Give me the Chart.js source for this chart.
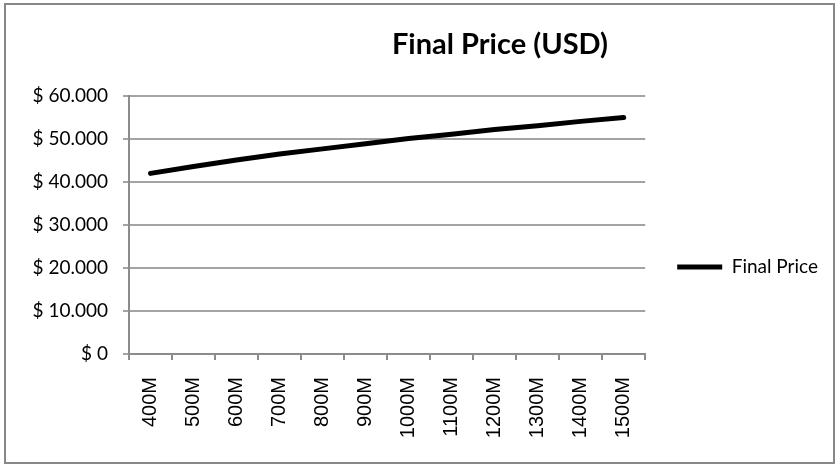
<!DOCTYPE html>
<html>
<head>
<meta charset="utf-8">
<script src="https://cdn.jsdelivr.net/npm/chart.js@4/dist/chart.umd.min.js"></script>
<style>
  html, body { margin: 0; padding: 0; background: #fff; }
  #wrap   { position: relative; width: 838px; height: 466px; overflow: hidden; }
  #chart  { position: absolute; left: 0; top: 0; }
  #frame  { position: absolute; left: 4px; top: 3px; width: 827px; height: 457px;
            border: 2px solid #878787; pointer-events: none; }
  #title  { position: absolute; left: 500px; top: 25px; transform: translateX(-50%);
            font: bold 29px Lato, sans-serif; color: #000; white-space: nowrap; }
</style>
</head>
<body>
<div id="wrap">
  <canvas id="chart" width="838" height="466"></canvas>
  <div id="frame"></div>
  <div id="title">Final Price (USD)</div>
</div>
<script>
// ── Data ──────────────────────────────────────────────────
const categories  = ["400M", "500M", "600M", "700M", "800M", "900M",
                     "1000M", "1100M", "1200M", "1300M", "1400M", "1500M"];
const finalPrice  = [42000, 43600, 45100, 46500, 47700, 48900,
                     50100, 51100, 52200, 53100, 54100, 55000];
const yTickLabels = ["$ 0", "$ 10.000", "$ 20.000", "$ 30.000",
                     "$ 40.000", "$ 50.000", "$ 60.000"];

// ── Colours ───────────────────────────────────────────────
const AXIS = "#8c8c8c";
const GRID = "#a3a3a3";
const INK  = "#000";

new Chart(document.getElementById("chart"), {
  type: "line",
  data: {
    labels: categories,
    datasets: [{
      label: "Final Price",
      data: finalPrice,
      borderColor: INK,
      backgroundColor: INK,
      borderWidth: 5,
      borderCapStyle: "round",
      borderJoinStyle: "round",
      pointRadius: 0,
      tension: 0,
      fill: false,
    }],
  },
  options: {
    responsive: false,
    animation: false,
    layout: { padding: { top: 96, bottom: 28, left: 29, right: 10 } },
    scales: {
      x: {
        offset: true,
        grid: { offset: true, drawOnChartArea: false, tickLength: 6, color: AXIS, lineWidth: 2 },
        border: { color: AXIS, width: 2 },
        ticks: {
          autoSkip: false, minRotation: 90, maxRotation: 90, padding: 17,
          color: INK, font: { family: "'Liberation Sans', Arial, sans-serif", size: 20 },
        },
        afterFit: s => { s.height = 84; },
      },
      y: {
        min: 0, max: 60000,
        ticks: {
          stepSize: 10000, padding: 15, color: INK,
          font: { family: "Lato, sans-serif", size: 19 },
          callback: (v, i) => yTickLabels[i],
        },
        grid: { color: GRID, lineWidth: 2, tickLength: 6 },
        border: { color: AXIS, width: 2 },
        afterFit: s => { s.width = 100; },
      },
    },
    plugins: {
      legend: {
        position: "right",
        labels: {
          usePointStyle: true, pointStyle: "line", pointStyleWidth: 45,
          padding: 32, color: INK, font: { family: "Lato, sans-serif", size: 19 },
        },
      },
      tooltip: { enabled: false },
    },
  },
});
</script>
</body>
</html>
